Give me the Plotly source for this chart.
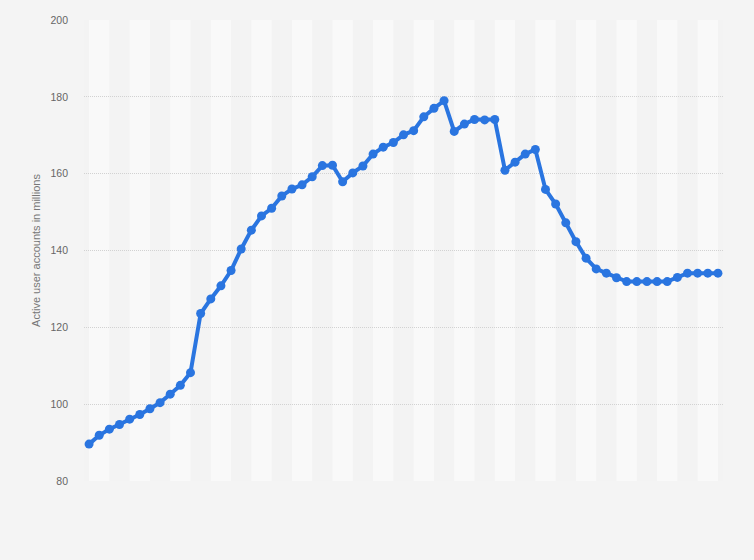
import plotly.graph_objects as go

values = [89.6, 91.9, 93.5, 94.7, 96.1, 97.3, 98.8, 100.4, 102.6, 104.9,
          108.2, 123.6, 127.4, 130.8, 134.8, 140.4, 145.3, 149.0, 151.0, 154.2,
          156.0, 157.1, 159.2, 162.1, 162.2, 157.9, 160.2, 162.0, 165.1, 166.9,
          168.1, 170.1, 171.2, 174.8, 177.0, 179.0, 171.0, 172.9, 174.1, 174.0,
          174.1, 160.9, 163.0, 165.1, 166.3, 155.9, 152.1, 147.2, 142.3, 138.0,
          135.2, 134.1, 132.9, 131.9, 131.9, 131.9, 131.9, 131.9, 133.0, 134.1,
          134.1, 134.1, 134.1]
x_index = list(range(len(values)))
y_ticks = [80, 100, 120, 140, 160, 180, 200]
y_title = "Active user accounts in millions"

fig = go.Figure()
fig.add_trace(go.Scatter(
    x=x_index, y=values, mode="lines+markers",
    line=dict(color="#2a75e0", width=4),
    marker=dict(color="#2a75e0", size=9),
    hoverinfo="skip", showlegend=False,
))

shapes = []
for k in range(0, len(values), 4):
    shapes.append(dict(type="rect", xref="x", yref="paper",
                       x0=k, x1=min(k + 2, len(values) - 1), y0=0, y1=1,
                       fillcolor="#f9f9f9", line=dict(width=0), layer="below"))

fig.update_layout(
    width=754, height=560,
    paper_bgcolor="#f4f4f4", plot_bgcolor="#f3f3f3",
    margin=dict(l=84, r=31, t=20, b=79),
    font=dict(family="Liberation Sans, Arial, sans-serif", color="#666666", size=11),
    shapes=shapes,
    xaxis=dict(range=[-0.5, len(values) - 0.5], showgrid=False, zeroline=False,
               showticklabels=False, ticks="", showline=False, fixedrange=True),
    yaxis=dict(range=[80, 200], tickvals=y_ticks, showgrid=True,
               gridcolor="#d2d2d2", griddash="1px,1px", gridwidth=1,
               zeroline=False, showline=False, ticks="",
               ticklabelstandoff=15,
               title=dict(text=y_title, font=dict(size=11, color="#777777"), standoff=7),
               tickfont=dict(size=10.5, color="#666666")),
)

fig.write_html("out.html", config={"displayModeBar": False},
               post_script="document.body.style.margin='0';document.body.style.background='#f4f4f4';")
